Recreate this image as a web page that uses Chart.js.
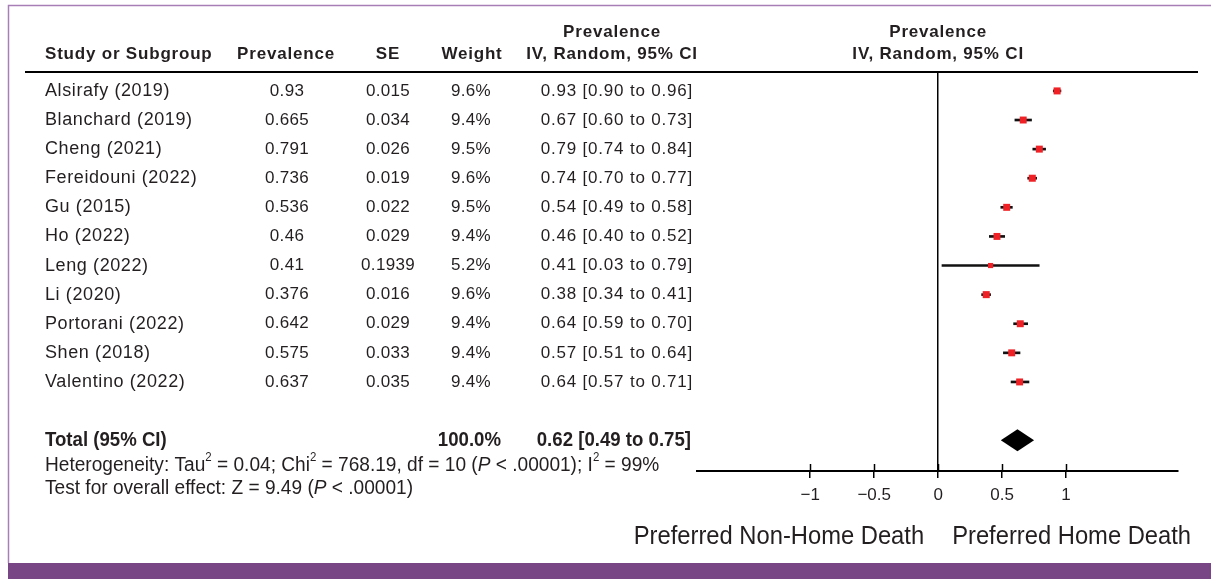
<!DOCTYPE html>
<html>
<head>
<meta charset="utf-8">
<script src="https://cdn.jsdelivr.net/npm/chart.js@4"></script>
<style>
  html, body { margin: 0; padding: 0; background: #fff; }
  #wrap { width: 1211px; height: 579px; }
</style>
</head>
<body>
<div id="wrap"><canvas id="forest" width="1211" height="579"></canvas></div>
<script>
// study level data
var studies = ['Alsirafy (2019)', 'Blanchard (2019)', 'Cheng (2021)', 'Fereidouni (2022)', 'Gu (2015)',
  'Ho (2022)', 'Leng (2022)', 'Li (2020)', 'Portorani (2022)', 'Shen (2018)', 'Valentino (2022)'];
var prevalence = [0.93, 0.665, 0.791, 0.736, 0.536, 0.46, 0.41, 0.376, 0.642, 0.575, 0.637];
var seValues = ['0.015', '0.034', '0.026', '0.019', '0.022', '0.029', '0.1939', '0.016', '0.029', '0.033', '0.035'];
var weights = [9.6, 9.4, 9.5, 9.6, 9.5, 9.4, 5.2, 9.6, 9.4, 9.4, 9.4];
var estimates = [0.93, 0.67, 0.79, 0.74, 0.54, 0.46, 0.41, 0.38, 0.64, 0.57, 0.64];
var ciLow = [0.90, 0.60, 0.74, 0.70, 0.49, 0.40, 0.03, 0.34, 0.59, 0.51, 0.57];
var ciHigh = [0.96, 0.73, 0.84, 0.77, 0.58, 0.52, 0.79, 0.41, 0.70, 0.64, 0.71];

// pooled result
var totalEstimate = 0.62;
var totalLow = 0.49;
var totalHigh = 0.75;
var totalWeight = '100.0%';
var totalRow = 12;

var xTicks = [-1, -0.5, 0, 0.5, 1];

var INK = '#231f20';
var SANS = '"Liberation Sans", Arial, sans-serif';

function fmt(v, d) { return v.toFixed(d); }
function ciText(i) {
  return fmt(estimates[i], 2) + ' [' + fmt(ciLow[i], 2) + ' to ' + fmt(ciHigh[i], 2) + ']';
}

// squeezed text, stands in for the condensed face of the original
function narrowText(ctx, text, x, y, font, squeeze, align) {
  ctx.save();
  ctx.font = font;
  var w = ctx.measureText(text).width * squeeze;
  var left = align === 'right' ? x - w : (align === 'center' ? x - w / 2 : x);
  ctx.translate(left, y);
  ctx.scale(squeeze, 1);
  ctx.textAlign = 'left';
  ctx.fillText(text, 0, 0);
  ctx.restore();
  return w;
}

// a run of text pieces, some superscript / italic
function drawRich(ctx, parts, x, y, size, squeeze) {
  parts.forEach(function (p) {
    var s = p.sup ? Math.round(size * 0.6) : size;
    var f = (p.it ? 'italic ' : '') + s + 'px ' + SANS;
    x += narrowText(ctx, p.t, x, p.sup ? y - size * 0.36 : y, f, squeeze, 'left');
  });
}

var tablePlugin = {
  id: 'table',
  beforeDraw: function (chart) {
    var ctx = chart.ctx;
    ctx.save();
    ctx.fillStyle = '#fff';
    ctx.fillRect(0, 0, chart.width, chart.height);
    // frame
    ctx.strokeStyle = '#a77fb6';
    ctx.lineWidth = 1.5;
    ctx.beginPath();
    ctx.moveTo(8.5, 563);
    ctx.lineTo(8.5, 5.5);
    ctx.lineTo(chart.width, 5.5);
    ctx.stroke();
    ctx.fillStyle = '#784585';
    ctx.fillRect(8, 563, chart.width - 8, 16);
    ctx.restore();
  },
  afterDraw: function (chart) {
    var ctx = chart.ctx;
    var xs = chart.scales.x, ys = chart.scales.y;
    var area = chart.chartArea;
    ctx.save();

    // header rule
    ctx.strokeStyle = '#000';
    ctx.lineWidth = 2;
    ctx.beginPath();
    ctx.moveTo(25, area.top);
    ctx.lineTo(1198, area.top);
    ctx.stroke();

    // upper halves of axis ticks
    ctx.lineWidth = 1.5;
    xTicks.forEach(function (v) {
      var px = Math.round(xs.getPixelForValue(v)) + 0.5;
      ctx.beginPath();
      ctx.moveTo(px, area.bottom - 7);
      ctx.lineTo(px, area.bottom);
      ctx.stroke();
    });

    // pooled diamond
    var yT = ys.getPixelForValue(totalRow);
    ctx.fillStyle = '#000';
    ctx.beginPath();
    ctx.moveTo(xs.getPixelForValue(totalLow), yT);
    ctx.lineTo(xs.getPixelForValue(totalEstimate), yT - 11);
    ctx.lineTo(xs.getPixelForValue(totalHigh), yT);
    ctx.lineTo(xs.getPixelForValue(totalEstimate), yT + 11);
    ctx.closePath();
    ctx.fill();

    ctx.fillStyle = INK;
    ctx.textBaseline = 'middle';

    // column headers
    ctx.font = 'bold 17px ' + SANS;
    ctx.letterSpacing = '0.8px';
    var h1 = area.top - 40, h2 = area.top - 18;
    var zeroX = xs.getPixelForValue(0);
    ctx.textAlign = 'left';
    ctx.fillText('Study or Subgroup', 45, h2);
    ctx.textAlign = 'center';
    ctx.fillText('Prevalence', 286, h2);
    ctx.fillText('SE', 388, h2);
    ctx.fillText('Weight', 472, h2);
    ctx.fillText('Prevalence', 612, h1);
    ctx.fillText('IV, Random, 95% CI', 612, h2);
    ctx.fillText('Prevalence', zeroX, h1);
    ctx.fillText('IV, Random, 95% CI', zeroX, h2);

    // study rows
    studies.forEach(function (name, i) {
      var y = ys.getPixelForValue(i);
      ctx.font = '18px ' + SANS;
      ctx.letterSpacing = '0.6px';
      ctx.textAlign = 'left';
      ctx.fillText(name, 45, y);
      ctx.font = '17px ' + SANS;
      ctx.letterSpacing = '0.3px';
      ctx.textAlign = 'center';
      ctx.fillText(String(prevalence[i]), 287, y);
      ctx.fillText(seValues[i], 388, y);
      ctx.fillText(fmt(weights[i], 1) + '%', 471, y);
      ctx.letterSpacing = '0.8px';
      ctx.textAlign = 'right';
      ctx.fillText(ciText(i), 693, y);
    });
    ctx.letterSpacing = '0px';

    // total row and notes
    var bold = 'bold 19.5px ' + SANS;
    narrowText(ctx, 'Total (95% CI)', 45, yT, bold, 0.955, 'left');
    narrowText(ctx, totalWeight, 501, yT, bold, 0.955, 'right');
    narrowText(ctx, fmt(totalEstimate, 2) + ' [' + fmt(totalLow, 2) + ' to ' + fmt(totalHigh, 2) + ']',
      691, yT, bold, 0.955, 'right');

    drawRich(ctx, [
      { t: 'Heterogeneity: Tau' }, { t: '2', sup: true }, { t: ' = 0.04; Chi' }, { t: '2', sup: true },
      { t: ' = 768.19, df = 10 (' }, { t: 'P', it: true }, { t: ' < .00001); I' }, { t: '2', sup: true },
      { t: ' = 99%' }
    ], 45, yT + 25, 20, 0.955);
    drawRich(ctx, [
      { t: 'Test for overall effect: Z = 9.49 (' }, { t: 'P', it: true }, { t: ' < .00001)' }
    ], 45, yT + 48, 20, 0.955);

    // direction labels
    narrowText(ctx, 'Preferred Non-Home Death', zeroX - 14, 537, '25px ' + SANS, 0.95, 'right');
    narrowText(ctx, 'Preferred Home Death', zeroX + 14, 537, '25px ' + SANS, 0.95, 'left');
    ctx.restore();
  }
};

var rows = studies.map(function (s, i) { return i; });

new Chart(document.getElementById('forest'), {
  type: 'scatter',
  data: {
    datasets: [{
      type: 'bar',
      label: 'CI',
      indexAxis: 'y',
      data: rows.map(function (i) { return { x: [ciLow[i], ciHigh[i]], y: i }; }),
      backgroundColor: '#111',
      borderWidth: 0,
      barThickness: 2,
      order: 2
    }, {
      label: 'Prevalence',
      data: rows.map(function (i) { return { x: prevalence[i], y: i }; }),
      pointStyle: 'rect',
      pointRadius: function (c) { return 1.6 * Math.sqrt(weights[c.dataIndex]); },
      backgroundColor: '#ee2226',
      borderWidth: 0,
      order: 1
    }]
  },
  options: {
    responsive: false,
    animation: false,
    devicePixelRatio: 1,
    layout: { padding: { left: 697, right: 33, top: 72, bottom: 78 } },
    plugins: { legend: { display: false }, tooltip: { enabled: false } },
    scales: {
      x: {
        type: 'linear',
        min: -1.885,
        max: 1.875,
        afterBuildTicks: function (s) { s.ticks = xTicks.map(function (v) { return { value: v }; }); },
        afterFit: function (s) { s.height = 30; },
        border: { display: true, color: '#000', width: 2 },
        grid: {
          drawOnChartArea: true,
          drawTicks: true,
          tickLength: 7,
          tickColor: '#000',
          lineWidth: 1.5,
          color: function (c) { return c.tick && c.tick.value === 0 ? '#000' : 'rgba(0,0,0,0)'; }
        },
        ticks: {
          padding: 7,
          color: INK,
          font: { family: SANS, size: 17 },
          callback: function (v) { return v < 0 ? '\u2212' + Math.abs(v) : String(v); }
        }
      },
      y: {
        type: 'linear',
        display: false,
        reverse: true,
        offset: false,
        grid: { offset: false },
        min: -0.65,
        max: 13.06
      }
    }
  },
  plugins: [tablePlugin]
});
</script>
</body>
</html>
